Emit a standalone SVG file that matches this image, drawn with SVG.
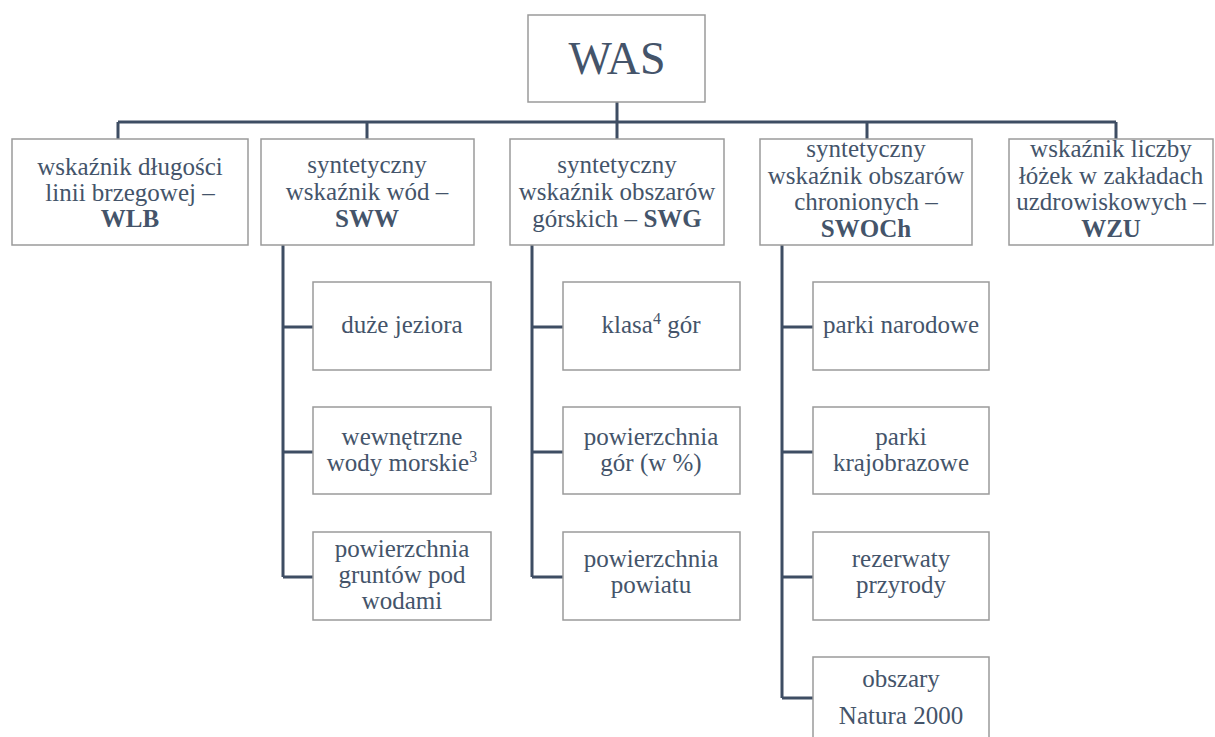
<svg xmlns="http://www.w3.org/2000/svg" width="1215" height="737" viewBox="0 0 1215 737">
<style>
.box{fill:#fff;stroke:#9a9a9a;stroke-width:1.5}
.t{font-family:'Liberation Serif','DejaVu Serif',serif;font-size:25px;fill:#44546A;text-anchor:middle}
.b{font-weight:bold}
.big{font-size:46px}
.c{fill:none;stroke:#3E4D63;stroke-width:3}
.sup{font-size:16px}
</style>
<g id="connectors">
<path class="c" d="M617 102V122M118 122H1116M118 122V139M367 122V139M617 122V139M867 122V139M1116 122V139"/>
<path class="c" d="M283 245V577M283 327H313M283 452H313M283 577H313"/>
<path class="c" d="M532 245V577M532 327H563M532 452H563M532 577H563"/>
<path class="c" d="M782 245V698M782 327H813M782 452H813M782 577H813M782 698H813"/>
</g>
<g id="was"><rect class="box" x="528" y="15" width="177" height="87"/><text class="t big" x="617" y="74">WAS</text></g>
<g id="wlb"><rect class="box" x="12" y="139" width="236" height="106"/><text class="t" x="130" y="175">wskaźnik długości</text><text class="t" x="130" y="201">linii brzegowej –</text><text class="t b" x="130" y="227">WLB</text></g>
<g id="sww"><rect class="box" x="261" y="139" width="213" height="106"/><text class="t" x="367" y="173">syntetyczny</text><text class="t" x="367" y="200">wskaźnik wód –</text><text class="t b" x="367" y="227">SWW</text></g>
<g id="swg"><rect class="box" x="510" y="139" width="214" height="106"/><text class="t" x="617" y="173">syntetyczny</text><text class="t" x="617" y="200">wskaźnik obszarów</text><text class="t" x="617" y="227">górskich – <tspan class="b">SWG</tspan></text></g>
<g id="swoch"><rect class="box" x="760" y="139" width="212" height="106"/><text class="t" x="866" y="157">syntetyczny</text><text class="t" x="866" y="184">wskaźnik obszarów</text><text class="t" x="866" y="210">chronionych –</text><text class="t b" x="866" y="237">SWOCh</text></g>
<g id="wzu"><rect class="box" x="1009" y="139" width="204" height="106"/><text class="t" x="1111" y="157">wskaźnik liczby</text><text class="t" x="1111" y="184">łóżek w zakładach</text><text class="t" x="1111" y="210">uzdrowiskowych –</text><text class="t b" x="1111" y="237">WZU</text></g>
<g id="sww1"><rect class="box" x="313" y="282" width="178" height="88"/><text class="t" x="402" y="333">duże jeziora</text></g>
<g id="sww2"><rect class="box" x="313" y="407" width="178" height="87"/><text class="t" x="402" y="445">wewnętrzne</text><text class="t" x="402" y="471">wody morskie<tspan class="sup" dy="-9">3</tspan></text></g>
<g id="sww3"><rect class="box" x="313" y="532" width="178" height="88"/><text class="t" x="402" y="557">powierzchnia</text><text class="t" x="402" y="583">gruntów pod</text><text class="t" x="402" y="609">wodami</text></g>
<g id="swg1"><rect class="box" x="563" y="282" width="177" height="88"/><text class="t" x="651" y="333">klasa<tspan class="sup" dy="-9">4</tspan><tspan dy="9"> gór</tspan></text></g>
<g id="swg2"><rect class="box" x="563" y="407" width="177" height="87"/><text class="t" x="651" y="445">powierzchnia</text><text class="t" x="651" y="471">gór (w %)</text></g>
<g id="swg3"><rect class="box" x="563" y="532" width="177" height="88"/><text class="t" x="651" y="567">powierzchnia</text><text class="t" x="651" y="593">powiatu</text></g>
<g id="swoch1"><rect class="box" x="813" y="282" width="176" height="88"/><text class="t" x="901" y="333">parki narodowe</text></g>
<g id="swoch2"><rect class="box" x="813" y="407" width="176" height="87"/><text class="t" x="901" y="445">parki</text><text class="t" x="901" y="471">krajobrazowe</text></g>
<g id="swoch3"><rect class="box" x="813" y="532" width="176" height="88"/><text class="t" x="901" y="567">rezerwaty</text><text class="t" x="901" y="593">przyrody</text></g>
<g id="swoch4"><rect class="box" x="813" y="657" width="176" height="90"/><text class="t" x="901" y="687">obszary</text><text class="t" x="901" y="724">Natura 2000</text></g>
</svg>
